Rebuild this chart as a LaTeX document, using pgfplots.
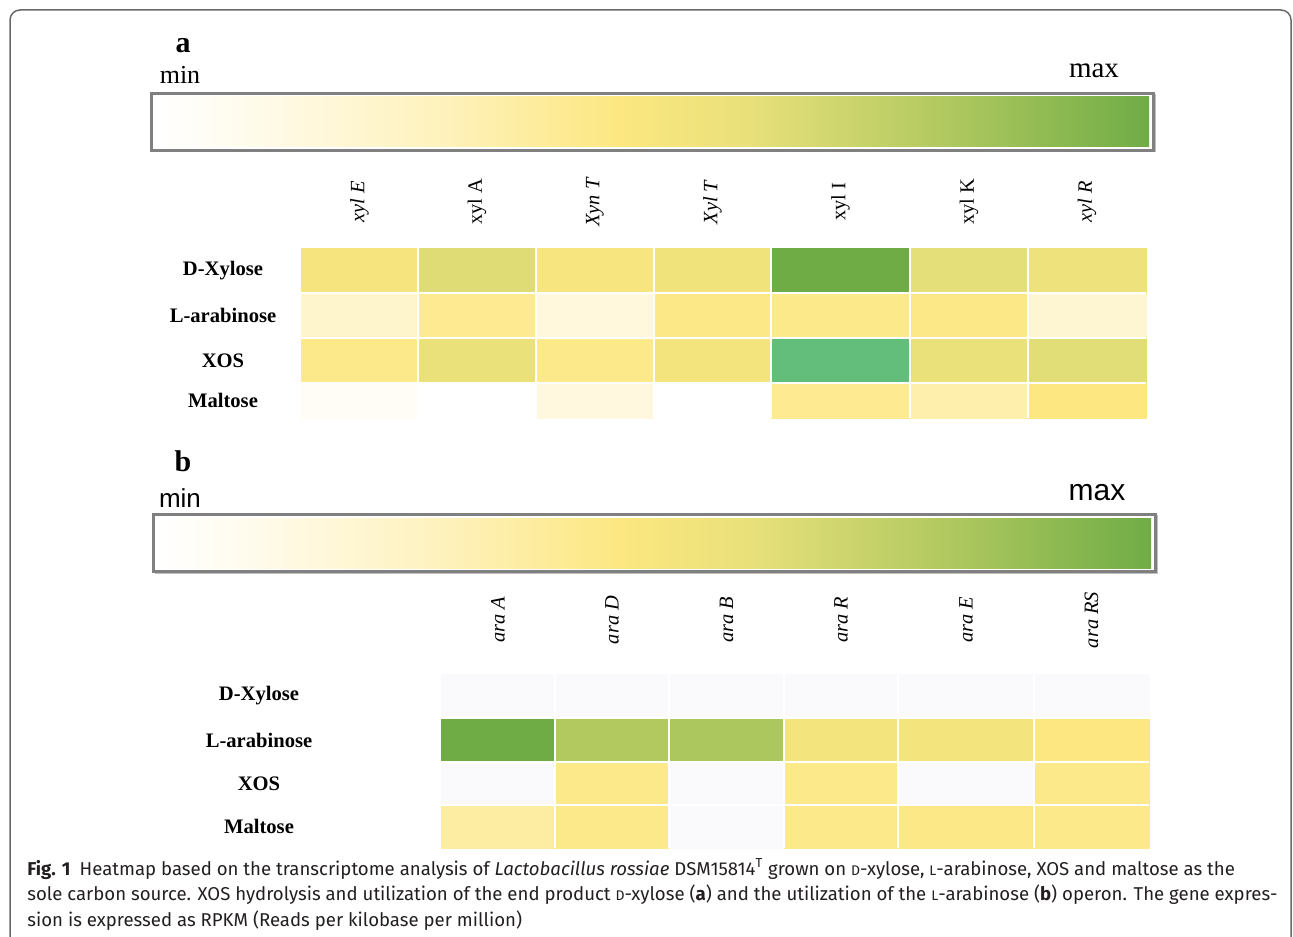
\documentclass[border=0pt]{standalone}
\usepackage{pgfplots}
\pgfplotsset{compat=1.18}
\usepackage{pgfplotstable}
\usepackage{fontspec}
\setmainfont{Liberation Serif}
\newfontfamily\capfont{Fira Sans}
\newfontfamily\arialfont{Liberation Sans}

\definecolor{frame}{RGB}{105,105,105}
\definecolor{barframe}{RGB}{128,128,128}
\definecolor{captext}{RGB}{35,31,32}
\definecolor{hA}{RGB}{255,255,255}
\definecolor{hB}{RGB}{255,251,235}
\definecolor{hC}{RGB}{254,241,185}
\definecolor{hD}{RGB}{252,231,128}
\definecolor{hE}{RGB}{232,224,122}
\definecolor{hF}{RGB}{175,200,95}
\definecolor{hG}{RGB}{112,172,70}
% central 50bp of the shading map onto the bar: 25bp = min, 75bp = max
\pgfdeclarehorizontalshading{heatbar}{100bp}{color(0bp)=(hA); color(25bp)=(hA); color(30bp)=(hB); color(40bp)=(hC); color(48.5bp)=(hD); color(55bp)=(hE); color(65bp)=(hF); color(75bp)=(hG); color(100bp)=(hG)}

\pgfplotsset{
  colormap={heatcell}{rgb255(0pt)=(250,250,253) rgb255(2pt)=(255,255,255) rgb255(12pt)=(255,251,235) rgb255(32pt)=(254,241,185) rgb255(49pt)=(252,231,128) rgb255(62pt)=(232,224,122) rgb255(82pt)=(175,200,95) rgb255(102pt)=(112,172,70) rgb255(103pt)=(99,190,123) rgb255(112pt)=(99,190,123)},
  heatax/.style={
    scale only axis, anchor=north west,
    axis line style={draw=none}, major tick length=0pt, tick style={draw=none},
    colormap name=heatcell, point meta min=-2, point meta max=110,
    xticklabel pos=upper,
    xticklabel style={rotate=90, anchor=center, font=\fontsize{10.2}{12}\selectfont},
    yticklabel style={anchor=center, font=\bfseries\fontsize{10.3}{12}\selectfont},
    clip=false, axis on top,
    extra x tick style={grid=major, major grid style={white, line width=0.9pt}},
    extra y tick style={grid=major, major grid style={white, line width=0.9pt}},
    extra x tick labels={}, extra y tick labels={},
  }
}

% Panel a: x = column boundaries, y = row boundaries (bottom up), v = relative expression (-2..110)
% rows: y=0 Maltose, 35 XOS, 80 L-arabinose, 125 D-Xylose, 170 closing edge
\pgfplotstableread{
x y v
0 0 5
117 0 0
235 0 15
353 0 0
470 0 42
609 0 34
727 0 47
845 0 0
0 35 44
117 35 59
235 35 44
353 35 52
470 35 110
609 35 58
727 35 62
845 35 0
0 80 22
117 80 42
235 80 16
353 80 45
470 80 44
609 80 45
727 80 20
845 80 0
0 125 51
117 125 63
235 125 50
353 125 55
470 125 100
609 125 61
727 125 56
845 125 0
0 170 0
117 170 0
235 170 0
353 170 0
470 170 0
609 170 0
727 170 0
845 170 0
}\heatA

% Panel b: rows y=0 Maltose, 43 XOS, 86 L-arabinose, 130 D-Xylose, 174 closing edge
\pgfplotstableread{
x y v
0 0 37
114 0 44
228 0 -2
343 0 44
457 0 45
593 0 44
708 0 0
0 43 -2
114 43 44
228 43 -2
343 43 44
457 43 -2
593 43 44
708 43 0
0 86 100
114 86 79
228 86 81
343 86 52
457 86 52
593 86 47
708 86 0
0 130 -2
114 130 -2
228 130 -2
343 130 -2
457 130 -2
593 130 -2
708 130 0
0 174 0
114 174 0
228 174 0
343 174 0
457 174 0
593 174 0
708 174 0
}\heatB

\newcommand\smc[1]{{\fontsize{7}{7}\selectfont #1}}

\begin{document}
\begin{tikzpicture}
\path[use as bounding box] (0,0) rectangle (646.5pt,-468pt);
% outer frame
\draw[frame, line width=0.75pt, rounded corners=5pt] (5pt,-475pt) -- (5pt,-5pt) -- (645.5pt,-5pt) -- (645.5pt,-475pt);

% ---------- panel a ----------
\node[font=\bfseries\fontsize{15}{16}\selectfont] at (91.5pt,-23pt) {a};
\node[font=\fontsize{13}{14}\selectfont] at (90pt,-37.5pt) {min};
\node[font=\fontsize{14.5}{16}\selectfont] at (547pt,-35.5pt) {max};
\shade[shading=heatbar] (77pt,-48.5pt) rectangle (574.5pt,-73.5pt);
\draw[black!25, line width=0.5pt] (76.5pt,-76pt) -- (577.5pt,-76pt) -- (577.5pt,-47pt);
\draw[barframe, line width=1.5pt] (75.75pt,-46.75pt) rectangle (576.75pt,-75.25pt);

\begin{axis}[heatax,
  at={(150.5pt,-124pt)}, width=422.5pt, height=85pt,
  xmin=0, xmax=845, ymin=0, ymax=170,
  xtick={58.5,176,294,411.5,539.5,668,786},
  xticklabels={\textit{xyl E}, xyl A, \textit{Xyn T}, \textit{Xyl T}, xyl I, xyl K, \textit{xyl R}},
  ytick={17.5,57.5,102.5,147.5},
  yticklabels={Maltose, XOS, L-arabinose, D-Xylose},
  xticklabel shift=23pt, yticklabel shift=39pt,
  extra x ticks={117,235,353,470,609,727},
  extra y ticks={35,80,125},
]
\addplot[surf, shader=flat corner, mesh/cols=8, point meta=explicit] table[x=x, y=y, meta=v] {\heatA};
\end{axis}

% ---------- panel b ----------
\node[font=\bfseries\fontsize{15}{16}\selectfont] at (91.5pt,-230.5pt) {b};
\node[font=\arialfont\fontsize{13}{14}\selectfont] at (90pt,-249pt) {min};
\node[font=\arialfont\fontsize{15}{16}\selectfont] at (548.5pt,-246.5pt) {max};
\shade[shading=heatbar] (78pt,-259pt) rectangle (575.5pt,-284pt);
\draw[black!25, line width=0.5pt] (77.5pt,-286.5pt) -- (578.5pt,-286.5pt) -- (578.5pt,-257.5pt);
\draw[barframe, line width=1.5pt] (76.75pt,-257.25pt) rectangle (577.75pt,-285.75pt);

\begin{axis}[heatax,
  at={(220.5pt,-337pt)}, width=354pt, height=87pt,
  xmin=0, xmax=708, ymin=0, ymax=174,
  xtick={57,171,285.5,400,525,650.5},
  xticklabels={\textit{ara A}, \textit{ara D}, \textit{ara B}, \textit{ara R}, \textit{ara E}, \textit{ara RS}},
  ytick={21.5,64.5,108,152},
  yticklabels={Maltose, XOS, L-arabinose, D-Xylose},
  xticklabel shift=27pt, yticklabel shift=91pt,
  extra x ticks={114,228,343,457,593},
  extra y ticks={43,86,130},
]
\addplot[surf, shader=flat corner, mesh/cols=7, point meta=explicit] table[x=x, y=y, meta=v] {\heatB};
\end{axis}

% ---------- caption ----------
\begin{scope}[every node/.style={anchor=base west, inner sep=0pt, text=captext, font=\capfont\fontsize{9.3}{11}\selectfont}]
\node at (13.5pt,-437.5pt) {{\bfseries Fig. 1}\enspace Heatmap based on the transcriptome analysis of \textit{Lactobacillus rossiae} DSM15814\textsuperscript{T} grown on \smc{D}-xylose, \smc{L}-arabinose, XOS and maltose as the};
\node at (13.5pt,-450.3pt) {sole carbon source. XOS hydrolysis and utilization of the end product \smc{D}-xylose (\textbf{a}) and the utilization of the \smc{L}-arabinose (\textbf{b}) operon. The gene expres-};
\node at (13.5pt,-463pt) {sion is expressed as RPKM (Reads per kilobase per million)};
\end{scope}
\end{tikzpicture}
\end{document}
